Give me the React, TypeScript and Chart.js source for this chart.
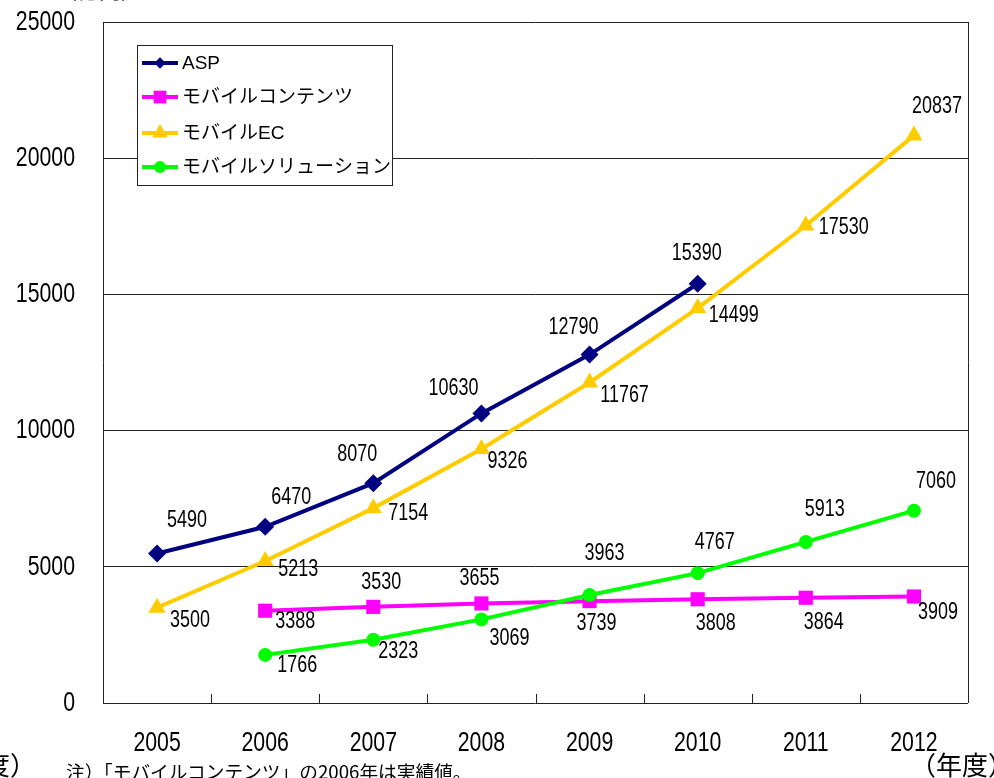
import { useEffect, useRef } from 'react';
import { Chart, registerables } from 'chart.js';

Chart.register(...registerables);

const years = ['2005', '2006', '2007', '2008', '2009', '2010', '2011', '2012'];
const aspValues = [5490, 6470, 8070, 10630, 12790, 15390, null, null];
const contentsValues = [null, 3388, 3530, 3655, 3739, 3808, 3864, 3909];
const ecValues = [3500, 5213, 7154, 9326, 11767, 14499, 17530, 20837];
const solutionValues = [null, 1766, 2323, 3069, 3963, 4767, 5913, 7060];
const seriesNames = ['ASP', 'モバイルコンテンツ', 'モバイルEC', 'モバイルソリューション'];
const yTicks = [0, 5000, 10000, 15000, 20000, 25000];

// label offsets (layout only) relative to each point: [dx, dy]
const aspLabelOffsets = [[30, -33], [26, -29], [-16, -29], [-28, -25], [-16, -27], [-1, -30], [0, 0], [0, 0]];
const contentsLabelOffsets = [[0, 0], [30, 11], [8, -24], [-2, -25], [7, 23], [18, 24], [18, 25], [24, 16]];
const ecLabelOffsets = [[33, 13], [33, 9], [35, 6], [26, 13], [35, 13], [36, 8], [38, 2], [23, -29]];
const solutionLabelOffsets = [[0, 0], [32, 11], [25, 12], [28, 19], [15, -41], [17, -30], [19, -32], [22, -29]];

const NUM_FONT = '"Liberation Sans", Arial, sans-serif';
const CJK_FONT = '"Noto Sans CJK JP", "Noto Sans", sans-serif';
const LEGEND_FONT = '"Liberation Sans", "Noto Sans CJK JP", sans-serif';

const colors = ['#000080', '#FF00FF', '#FFCC00', '#00FF00'];
const pointStyles = ['rectRot', 'rect', 'triangle', 'circle'];
const pointRadii = [9, 10, 10, 7];

function drawMarker(ctx: CanvasRenderingContext2D, style: string, r: number, x: number, y: number) {
  ctx.beginPath();
  if (style === 'circle') {
    ctx.arc(x, y, r, 0, Math.PI * 2);
  } else if (style === 'rect') {
    const s = r * Math.SQRT1_2;
    ctx.rect(x - s, y - s, 2 * s, 2 * s);
  } else if (style === 'rectRot') {
    const s = r * Math.SQRT1_2;
    ctx.moveTo(x, y - s);
    ctx.lineTo(x + s, y);
    ctx.lineTo(x, y + s);
    ctx.lineTo(x - s, y);
    ctx.closePath();
  } else if (style === 'triangle') {
    const h = r * 1.5;
    const w = r * Math.sqrt(3) / 2;
    ctx.moveTo(x, y - r);
    ctx.lineTo(x + w, y + h - r);
    ctx.lineTo(x - w, y + h - r);
    ctx.closePath();
  }
  ctx.fill();
}

function narrowText(ctx: CanvasRenderingContext2D, text: string, x: number, y: number, size: number, sx: number, align: CanvasTextAlign) {
  ctx.save();
  ctx.translate(x, y);
  ctx.scale(sx, 1);
  ctx.font = `${size}px ${NUM_FONT}`;
  ctx.textAlign = align;
  ctx.textBaseline = 'middle';
  ctx.fillStyle = '#000';
  ctx.fillText(text, 0, 0);
  ctx.restore();
}

export default function App() {
  const ref = useRef<HTMLCanvasElement>(null);

  useEffect(() => {
    const offsetsByDataset = [aspLabelOffsets, contentsLabelOffsets, ecLabelOffsets, solutionLabelOffsets];

    const framePlugin = {
      id: 'frame',
      beforeDatasetsDraw(chart: any) {
        const { ctx, chartArea } = chart;
        const { left, right, top, bottom } = chartArea;
        ctx.save();
        ctx.strokeStyle = '#222';
        ctx.lineWidth = 1;
        ctx.beginPath();
        ctx.moveTo(Math.round(left) + 0.5, top);
        ctx.lineTo(Math.round(left) + 0.5, bottom);
        ctx.moveTo(Math.round(right) + 0.5, top);
        ctx.lineTo(Math.round(right) + 0.5, bottom);
        const n = years.length;
        const step = (right - left) / n;
        for (let i = 1; i < n; i++) {
          const px = Math.round(left + step * i) + 0.5;
          ctx.moveTo(px, bottom);
          ctx.lineTo(px, bottom - 9);
        }
        ctx.stroke();
        ctx.restore();

        // axis tick labels (drawn from the scales' own ticks)
        const xs = chart.scales.x;
        xs.ticks.forEach((t: any, i: number) => {
          narrowText(ctx, String(xs.getLabelForValue(t.value)), xs.getPixelForTick(i), bottom + 40, 28, 0.76, 'center');
        });
        const ys = chart.scales.y;
        ys.ticks.forEach((t: any) => {
          narrowText(ctx, String(t.value), 75, ys.getPixelForValue(t.value), 28, 0.76, 'right');
        });
      },
    };

    const labelsPlugin = {
      id: 'valueLabels',
      afterDatasetsDraw(chart: any) {
        const { ctx } = chart;
        chart.data.datasets.forEach((ds: any, di: number) => {
          const meta = chart.getDatasetMeta(di);
          meta.data.forEach((pt: any, i: number) => {
            const v = ds.data[i];
            if (v === null || v === undefined) return;
            const [dx, dy] = offsetsByDataset[di][i];
            narrowText(ctx, String(v), pt.x + dx, pt.y + dy, 23, 0.78, 'center');
          });
        });
      },
    };

    const legendPlugin = {
      id: 'insideLegend',
      afterDraw(chart: any) {
        const { ctx } = chart;
        ctx.save();
        const bx = 137, by = 45, bw = 255, bh = 140;
        ctx.fillStyle = '#fff';
        ctx.fillRect(bx, by, bw, bh);
        ctx.strokeStyle = '#222';
        ctx.lineWidth = 1;
        ctx.strokeRect(bx + 0.5, by + 0.5, bw, bh);
        const rows = [63, 97, 133, 167];
        seriesNames.forEach((name, i) => {
          const y = rows[i];
          ctx.strokeStyle = colors[i];
          ctx.lineWidth = 4;
          ctx.beginPath();
          ctx.moveTo(142, y);
          ctx.lineTo(178, y);
          ctx.stroke();
          ctx.fillStyle = colors[i];
          drawMarker(ctx, pointStyles[i], pointRadii[i] - 1, 160, y);
          ctx.fillStyle = '#000';
          ctx.font = `19px ${LEGEND_FONT}`;
          ctx.textAlign = 'left';
          ctx.textBaseline = 'middle';
          ctx.fillText(name, 182, y + 1);
        });
        ctx.restore();
      },
    };

    const datasetValues = [aspValues, contentsValues, ecValues, solutionValues];
    const orders = [1, 3, 2, 0];

    const chart = new Chart(ref.current as HTMLCanvasElement, {
      type: 'line',
      data: {
        labels: years,
        datasets: datasetValues.map((vals, i) => ({
          label: seriesNames[i],
          data: vals as any,
          borderColor: colors[i],
          backgroundColor: colors[i],
          borderWidth: 4,
          pointStyle: pointStyles[i] as any,
          pointRadius: pointRadii[i],
          pointBorderWidth: 0,
          pointBackgroundColor: colors[i],
          spanGaps: false,
          tension: 0,
          order: orders[i],
          clip: false as any,
        })),
      },
      options: {
        animation: false,
        responsive: false,
        maintainAspectRatio: false,
        layout: { padding: { top: 22, right: 26, left: 0, bottom: 0 } },
        plugins: {
          legend: { display: false },
          tooltip: { enabled: false },
        },
        scales: {
          x: {
            offset: true,
            grid: { display: false },
            border: { display: false },
            ticks: { display: false },
            afterFit(s: any) { s.height = 75; },
          },
          y: {
            min: 0,
            max: 25000,
            afterBuildTicks(s: any) { s.ticks = yTicks.map((v) => ({ value: v })); },
            grid: { color: '#222', lineWidth: 1, drawTicks: false },
            border: { display: false },
            ticks: { display: false },
            afterFit(s: any) { s.width = 103; },
          },
        },
      },
      plugins: [framePlugin, labelsPlugin, legendPlugin],
    });
    return () => chart.destroy();
  }, []);

  const textStyle = (left: number, top: number, size: number): React.CSSProperties => ({
    position: 'absolute',
    left,
    top,
    fontSize: size,
    fontFamily: CJK_FONT,
    lineHeight: 1,
    whiteSpace: 'nowrap',
    color: '#000',
  });

  return (
    <div style={{ position: 'absolute', left: 0, top: 0, width: 994, height: 778, overflow: 'hidden', background: '#fff' }}>
      <canvas ref={ref} width={994} height={778} style={{ position: 'absolute', left: 0, top: 0 }} />
      <span style={textStyle(55, -23, 22)}>（億円）</span>
      <span style={textStyle(-68, 751, 26)}>（年度）</span>
      <span style={textStyle(910, 751, 26)}>（年度）</span>
      <span style={textStyle(66, 762, 18.7)}>注）「モバイルコンテンツ」の2006年は実績値。</span>
    </div>
  );
}
